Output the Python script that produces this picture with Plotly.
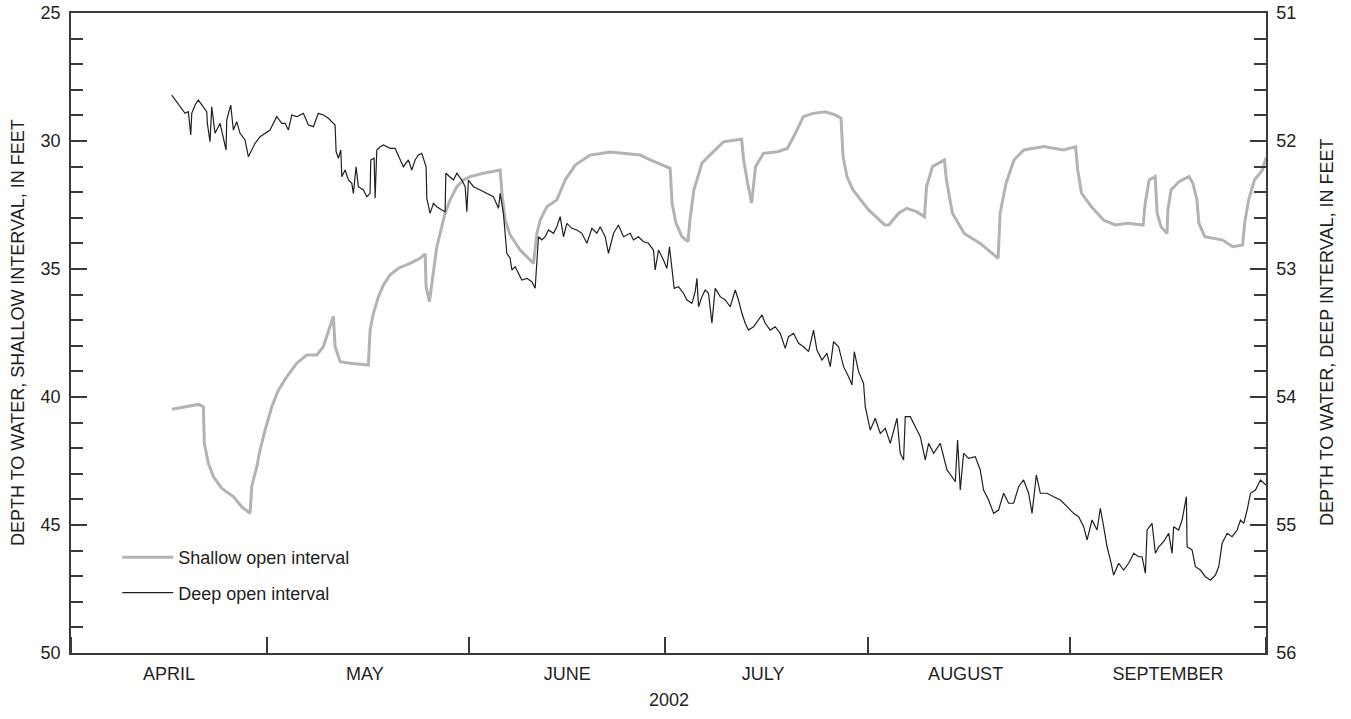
import pandas as pd
import plotly.graph_objects as go

# ---- data (days after 2002-04-01 00:00, depth in feet) ----
shallow_day = [15.43, 17.46, 19.50, 20.27, 20.42, 21.03, 21.80, 23.09, 24.86, 26.15, 27.42, 27.68,
               28.45, 28.95, 29.72, 30.75, 31.76, 33.04, 34.57, 36.11, 37.64, 38.65, 39.68, 40.18,
               40.44, 41.21, 42.74, 45.54, 45.80, 46.31, 47.08, 47.84, 48.87, 50.14, 51.93, 53.46,
               54.23, 54.38, 54.89, 55.26, 55.76, 56.02, 56.53, 57.29, 58.06, 59.09, 60.10, 61.12,
               63.16, 65.72, 66.02, 66.48, 67.25, 68.78, 70.01, 70.82, 71.34, 71.85, 72.87, 74.40,
               75.68, 77.21, 79.51, 82.57, 87.16, 88.70, 91.75, 92.05, 92.65, 93.57, 94.49, 94.78,
               95.39, 96.62, 97.83, 99.96, 102.70, 103.01, 103.62, 104.23, 104.83, 106.05, 108.18,
               109.70, 110.93, 112.14, 113.67, 115.49, 117.01, 117.92, 118.23, 118.83, 119.75,
               122.18, 124.62, 125.23, 126.75, 127.97, 129.49, 130.70, 131.01, 131.93, 133.75,
               134.06, 134.98, 136.80, 139.24, 141.98, 142.28, 143.19, 144.41, 145.93, 148.98,
               152.03, 153.85, 154.16, 154.75, 156.28, 158.11, 159.93, 161.77, 164.19, 164.50,
               165.11, 166.03, 166.33, 166.93, 167.85, 167.97, 168.46, 169.67, 171.20, 171.80,
               172.42, 172.72, 173.63, 176.37, 177.90, 179.42, 179.73, 180.34, 181.24, 182.46, 183.0]
shallow_ft = [40.48, 40.38, 40.29, 40.38, 41.81, 42.59, 43.11, 43.57, 43.89, 44.29, 44.54, 43.50,
              42.72, 42.07, 41.29, 40.38, 39.73, 39.21, 38.68, 38.36, 38.36, 38.03, 37.25, 36.84,
              38.03, 38.62, 38.68, 38.75, 37.38, 36.73, 36.08, 35.63, 35.23, 34.97, 34.78, 34.58,
              34.41, 35.69, 36.28, 35.56, 34.78, 34.13, 33.61, 32.82, 32.30, 31.78, 31.52, 31.39,
              31.26, 31.13, 32.11, 33.09, 33.67, 34.26, 34.57, 34.78, 33.61, 33.09, 32.57, 32.30,
              31.52, 30.94, 30.55, 30.43, 30.55, 30.74, 31.07, 32.43, 33.21, 33.74, 33.93, 33.09,
              31.91, 30.87, 30.55, 30.03, 29.93, 30.74, 31.65, 32.43, 31.00, 30.48, 30.42,
              30.29, 29.70, 29.05, 28.92, 28.86, 28.98, 29.11, 30.61, 31.39, 31.91,
              32.70, 33.28, 33.28, 32.82, 32.63, 32.76, 32.96, 31.79, 31.00, 30.74,
              31.52, 32.82, 33.61, 34.00, 34.58, 32.82, 31.65, 30.74, 30.35, 30.22,
              30.35, 30.22, 31.13, 32.04, 32.57, 33.09, 33.28, 33.21, 33.28, 32.43,
              31.52, 31.39, 32.82, 33.35, 33.61, 32.70, 31.91, 31.59, 31.39, 31.65,
              32.30, 33.21, 33.74, 33.87, 34.13, 34.06, 33.21, 32.30, 31.52, 31.13, 30.65]

deep_day = [15.43, 17.46, 17.97, 18.34, 18.49, 19.00, 19.50, 20.02, 20.79, 20.88, 21.29, 21.55,
            22.06, 22.83, 23.24, 23.74, 23.85, 24.46, 24.86, 25.38, 25.89, 26.65, 27.16, 27.42,
            28.19, 28.95, 29.72, 30.48, 30.99, 31.51, 32.28, 32.78, 33.29, 33.81, 34.57, 35.59,
            36.35, 37.12, 37.88, 38.65, 39.42, 40.18, 40.44, 40.60, 40.95, 41.32, 41.47, 41.97,
            42.48, 43.00, 43.24, 43.66, 44.01, 44.78, 45.30, 45.80, 45.91, 46.42, 46.57, 46.83,
            47.34, 47.84, 48.87, 49.63, 50.40, 50.90, 51.67, 52.19, 52.70, 53.20, 53.72, 54.23,
            54.38, 54.49, 54.99, 55.50, 56.02, 56.79, 57.29, 57.40, 58.06, 58.57, 59.09, 59.85,
            60.36, 60.62, 60.86, 61.63, 62.66, 63.68, 64.69, 65.46, 65.72, 66.22, 66.48, 66.74,
            67.25, 67.51, 68.02, 68.52, 69.04, 69.81, 70.57, 71.08, 71.34, 71.59, 72.11, 72.61,
            73.12, 73.89, 74.40, 74.91, 75.42, 75.94, 76.70, 77.47, 78.23, 79.00, 79.77, 80.53,
            81.04, 81.80, 82.31, 83.08, 83.84, 84.61, 85.63, 86.14, 86.90, 87.67, 88.43, 89.20,
            89.46, 89.97, 90.73, 91.25, 91.65, 92.02, 92.37, 93.03, 93.80, 94.32, 95.09, 95.59,
            95.85, 96.10, 96.62, 97.12, 97.63, 98.15, 98.65, 99.42, 100.19, 100.95, 101.72, 102.22,
            102.74, 103.25, 103.75, 104.52, 105.29, 105.81, 106.31, 107.08, 107.84, 108.61, 109.38,
            109.88, 110.65, 111.42, 112.18, 112.95, 113.71, 114.23, 115.00, 115.76, 116.27, 116.78,
            117.55, 118.31, 119.08, 119.60, 119.95, 120.61, 121.37, 121.63, 122.40, 123.16, 123.93,
            124.70, 125.46, 126.49, 126.99, 127.50, 127.76, 128.53, 129.29, 130.06, 130.82, 131.33,
            132.10, 133.12, 133.63, 134.15, 134.91, 135.42, 135.77, 136.18, 136.69, 137.46, 138.48,
            139.24, 139.75, 140.52, 141.29, 142.05, 142.82, 143.59, 144.35, 145.12, 145.88, 146.65,
            147.17, 147.83, 148.44, 149.47, 150.48, 151.51, 152.53, 153.54, 154.31, 155.08, 155.60,
            156.36, 157.13, 157.63, 158.14, 158.66, 159.17, 159.67, 160.44, 161.20, 161.97, 162.74,
            163.50, 164.02, 164.53, 164.79, 165.55, 166.06, 166.57, 167.33, 168.10, 168.62, 168.86,
            169.63, 170.15, 170.81, 170.91, 171.68, 172.19, 172.95, 173.72, 174.49, 175.25, 175.76,
            176.28, 177.05, 177.81, 178.58, 179.09, 179.59, 180.11, 180.62, 181.39, 182.15, 183.0]
deep_ft = [51.641, 51.784, 51.771, 51.953, 51.784, 51.719, 51.680, 51.719, 51.771, 51.862, 52.005, 51.732,
           51.940, 51.862, 51.953, 52.070, 51.836, 51.719, 51.914, 51.849, 51.940, 51.992, 52.123, 52.096,
           52.018, 51.966, 51.940, 51.914, 51.862, 51.810, 51.862, 51.862, 51.914, 51.797, 51.810, 51.784,
           51.875, 51.888, 51.784, 51.797, 51.823, 51.862, 51.875, 52.084, 52.135, 52.070, 52.279, 52.227,
           52.305, 52.330, 52.409, 52.201, 52.357, 52.383, 52.435, 52.409, 52.148, 52.135, 52.448, 52.070,
           52.045, 52.031, 52.057, 52.057, 52.148, 52.201, 52.148, 52.227, 52.148, 52.109, 52.096, 52.174,
           52.201, 52.448, 52.565, 52.487, 52.513, 52.539, 52.552, 52.252, 52.279, 52.305, 52.252, 52.305,
           52.357, 52.552, 52.305, 52.357, 52.383, 52.409, 52.435, 52.526, 52.409, 52.565, 52.695, 52.877,
           52.916, 53.008, 52.982, 53.034, 53.086, 53.073, 53.099, 53.151, 52.969, 52.748, 52.773, 52.748,
           52.695, 52.721, 52.670, 52.591, 52.748, 52.643, 52.682, 52.695, 52.721, 52.799, 52.682, 52.721,
           52.670, 52.748, 52.877, 52.721, 52.656, 52.748, 52.721, 52.773, 52.748, 52.787, 52.799, 52.852,
           53.008, 52.852, 52.930, 52.995, 52.826, 53.008, 53.151, 53.138, 53.190, 53.242, 53.268, 53.177,
           53.073, 53.295, 53.216, 53.164, 53.190, 53.424, 53.151, 53.216, 53.242, 53.295, 53.164, 53.242,
           53.346, 53.424, 53.477, 53.451, 53.398, 53.359, 53.424, 53.477, 53.451, 53.502, 53.620,
           53.529, 53.502, 53.580, 53.607, 53.646, 53.477, 53.633, 53.711, 53.659, 53.763, 53.568,
           53.607, 53.763, 53.841, 53.906, 53.646, 53.802, 53.893, 54.076, 54.258, 54.166, 54.284,
           54.245, 54.362, 54.166, 54.440, 54.492, 54.154, 54.154, 54.232, 54.310, 54.492, 54.362,
           54.440, 54.362, 54.466, 54.570, 54.623, 54.662, 54.336, 54.727, 54.440, 54.479, 54.466,
           54.570, 54.727, 54.805, 54.909, 54.883, 54.752, 54.830, 54.830, 54.701, 54.648, 54.752,
           54.909, 54.609, 54.752, 54.752, 54.779, 54.805, 54.857, 54.909, 54.935, 55.013, 55.117,
           54.961, 55.039, 54.870, 55.013, 55.170, 55.273, 55.391, 55.299, 55.352, 55.299, 55.221,
           55.248, 55.248, 55.377, 55.039, 54.987, 55.221, 55.170, 55.130, 55.065, 55.221, 55.013,
           55.039, 54.961, 54.779, 55.170, 55.195, 55.326, 55.352, 55.404, 55.430, 55.391, 55.326,
           55.143, 55.065, 55.091, 55.039, 54.961, 54.987, 54.883, 54.752, 54.727, 54.648, 54.688]

month_labels = ["APRIL", "MAY", "JUNE", "JULY", "AUGUST", "SEPTEMBER"]
month_label_dates = ["2002-04-16", "2002-05-16", "2002-06-16", "2002-07-16", "2002-08-16", "2002-09-16"]
left_ticks = [25, 30, 35, 40, 45, 50]
right_ticks = [51, 52, 53, 54, 55, 56]

base = pd.Timestamp("2002-04-01")
shallow_x = base + pd.to_timedelta(shallow_day, unit="D")
deep_x = base + pd.to_timedelta(deep_day, unit="D")

FONT = "Liberation Sans, Arial, sans-serif"
INK = "#231f20"
AX = "#3a3a3a"

fig = go.Figure()
fig.add_trace(go.Scatter(x=shallow_x, y=shallow_ft, mode="lines", name="Shallow open interval",
                         line=dict(color="#b1b3b6", width=3), yaxis="y", legendgroup="a"))
fig.add_trace(go.Scatter(x=deep_x, y=deep_ft, mode="lines", name="Deep open interval",
                         line=dict(color=INK, width=1.2), yaxis="y2", legendgroup="b"))

fig.update_layout(
    width=1351, height=719,
    margin=dict(l=71, r=85, t=13, b=66, autoexpand=False),
    paper_bgcolor="white", plot_bgcolor="white",
    font=dict(family=FONT, size=18, color=INK),
    showlegend=True,
    legend=dict(x=0.0387, y=0.178, xanchor="left", yanchor="top", bgcolor="rgba(0,0,0,0)",
                font=dict(size=18, family=FONT, color=INK), traceorder="grouped",
                tracegroupgap=9, itemwidth=51),
    xaxis=dict(type="date", range=["2002-04-01", "2002-10-01"], automargin=False,
               showline=True, linecolor=AX, linewidth=1.5, mirror=True,
               showgrid=False, zeroline=False,
               tickmode="array", tickvals=month_label_dates, ticktext=month_labels,
               ticks="", ticklabelstandoff=4,
               tickfont=dict(size=18, family=FONT, color=INK),
               minor=dict(ticks="inside", ticklen=16, tickwidth=1.5, tickcolor=AX,
                          dtick="M1", tick0="2002-04-01", showgrid=False)),
    yaxis=dict(range=[50, 25], showline=True, linecolor=AX, linewidth=1.5, automargin=False,
               showgrid=False, zeroline=False,
               tickmode="array", tickvals=left_ticks, ticks="inside", ticklen=16,
               tickwidth=1.5, tickcolor=AX, ticklabelstandoff=5,
               tickfont=dict(size=18, family=FONT, color=INK),
               minor=dict(ticks="inside", ticklen=12, tickwidth=1.5, tickcolor=AX,
                          dtick=1, tick0=25, showgrid=False)),
    yaxis2=dict(range=[56, 51], overlaying="y", side="right", showline=True, automargin=False,
                linecolor=AX, linewidth=1.5, showgrid=False, zeroline=False,
                tickmode="array", tickvals=right_ticks, ticks="inside", ticklen=16,
                tickwidth=1.5, tickcolor=AX, ticklabelstandoff=5,
                tickfont=dict(size=18, family=FONT, color=INK),
                minor=dict(ticks="inside", ticklen=12, tickwidth=1.5, tickcolor=AX,
                           dtick=0.2, tick0=51, showgrid=False)),
    annotations=[
        dict(text="DEPTH TO WATER, SHALLOW INTERVAL, IN FEET", xref="paper", yref="paper",
             x=0, y=0.5, xshift=-53, textangle=-90, showarrow=False,
             xanchor="center", yanchor="middle", font=dict(size=18, family=FONT, color=INK)),
        dict(text="DEPTH TO WATER, DEEP INTERVAL, IN FEET", xref="paper", yref="paper",
             x=1, y=0.5, xshift=61, textangle=-90, showarrow=False,
             xanchor="center", yanchor="middle", font=dict(size=18, family=FONT, color=INK)),
        dict(text="2002", xref="paper", yref="paper", x=0.5, y=0, yshift=-47,
             showarrow=False, xanchor="center", yanchor="middle",
             font=dict(size=18, family=FONT, color=INK)),
    ],
)

# remove the default 8px page margin so the figure sits at the window origin
fig.write_html("out.html", config={"displayModeBar": False},
               post_script="document.body.style.margin='0';document.body.style.overflow='hidden';")
